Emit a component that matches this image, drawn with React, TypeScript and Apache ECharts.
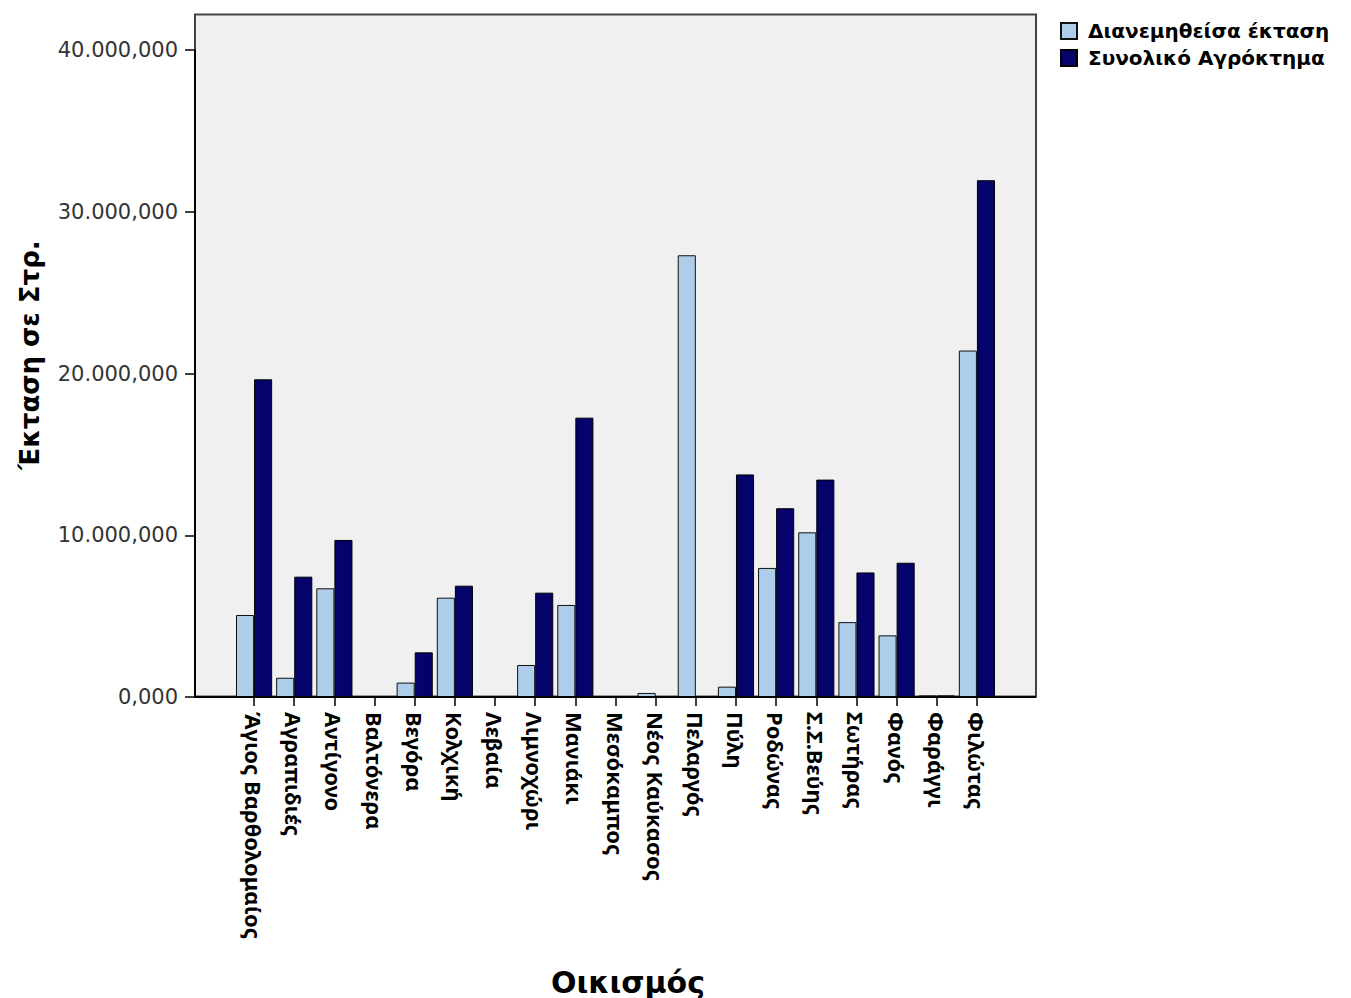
import React, { useEffect, useRef } from "react";
import * as echarts from "echarts";

const categories = [
  "Άγιος Βαρθολομαίος",
  "Αγραπιδιές",
  "Αντίγονο",
  "Βαλτόνερα",
  "Βεγόρα",
  "Κολχική",
  "Λεβαία",
  "Λιμνοχώρι",
  "Μανιάκι",
  "Μεσόκαμπος",
  "Νέος Καύκασος",
  "Πελαργός",
  "Πύλη",
  "Ροδώνας",
  "Σ.Σ.Βεύης",
  "Σωτήρας",
  "Φανός",
  "Φαράγγι",
  "Φιλώτας",
];

const distributed = [
  5070, 1190, 6720, 0, 890, 6140, 0, 1980, 5690, 0,
  250, 27310, 640, 7980, 10180, 4630, 3810, 100, 21420,
];

const totalFarm = [
  19640, 7440, 9710, 0, 2760, 6880, 0, 6450, 17270, 0,
  0, 0, 13760, 11670, 13440, 7700, 8300, 100, 31950,
];

const yTicks = [0, 10000, 20000, 30000, 40000];
const seriesNames = ["Διανεμηθείσα έκταση", "Συνολικό Αγρόκτημα"];
const xTitle = "Οικισμός";
const yTitle = "Έκταση σε Στρ.";

function fmt(v: number): string {
  const s = Math.round(v).toString();
  const grouped = s.replace(/\B(?=(\d{3})+(?!\d))/g, ".");
  return grouped + ",000";
}

export default function App() {
  const ref = useRef<HTMLDivElement>(null);
  useEffect(() => {
    if (!ref.current) return;
    const chart = echarts.init(ref.current, null, { renderer: "svg" });
    chart.setOption({
      animation: false,
      backgroundColor: "#ffffff",
      grid: { left: 234, right: 354, top: 50, bottom: 301, containLabel: false },
      legend: {
        data: seriesNames,
        orient: "vertical",
        left: 1060,
        top: 21,
        padding: 0,
        itemWidth: 16,
        itemHeight: 16,
        itemGap: 7,
        icon: "rect",
        textStyle: {
          fontFamily: "DejaVu Sans",
          fontWeight: "bold",
          fontSize: 20,
          color: "#000",
          padding: [0, 0, 0, 6],
        },
      },
      xAxis: {
        type: "category",
        data: categories,
        axisLine: { show: false },
        axisTick: {
          show: true,
          alignWithLabel: true,
          length: 9,
          lineStyle: { color: "#000", width: 1.5 },
        },
        axisLabel: {
          rotate: -90,
          interval: 0,
          margin: 15,
          fontFamily: "Noto Sans",
          fontWeight: "bold",
          fontSize: 22,
          color: "#000",
        },
        splitLine: { show: false },
      },
      yAxis: {
        type: "value",
        min: yTicks[0],
        max: yTicks[yTicks.length - 1],
        interval: yTicks[1] - yTicks[0],
        offset: 39,
        axisLine: { show: true, lineStyle: { color: "#000", width: 2 } },
        axisTick: { show: true, length: 10, lineStyle: { color: "#000", width: 1.5 } },
        axisLabel: {
          formatter: (v: number) => fmt(v),
          fontFamily: "DejaVu Sans",
          fontSize: 21,
          color: "#333",
          margin: 17,
        },
        splitLine: { show: false },
      },
      graphic: [
        {
          type: "rect",
          z: -10,
          shape: { x: 195, y: 14.5, width: 841, height: 682 },
          style: { fill: "#F0F0F0", stroke: "#444", lineWidth: 2 },
        },
        {
          type: "line",
          z: 100,
          shape: { x1: 195, y1: 697, x2: 1036, y2: 697 },
          style: { stroke: "#000", lineWidth: 2 },
        },
        {
          type: "text",
          x: 628,
          y: 982,
          style: {
            text: xTitle,
            fontFamily: "DejaVu Sans",
            fontWeight: "bold",
            fontSize: 30,
            fill: "#000",
            textAlign: "center",
            textVerticalAlign: "middle",
          },
        },
        {
          type: "text",
          x: 30,
          y: 355,
          rotation: Math.PI / 2,
          style: {
            text: yTitle,
            fontFamily: "DejaVu Sans",
            fontWeight: "bold",
            fontSize: 26,
            fill: "#000",
            textAlign: "center",
            textVerticalAlign: "middle",
          },
        },
      ],
      series: [
        {
          name: seriesNames[0],
          type: "bar",
          data: distributed,
          barGap: "0%",
          barCategoryGap: "10%",
          itemStyle: { color: "#AECDEA", borderColor: "#111", borderWidth: 1 },
        },
        {
          name: seriesNames[1],
          type: "bar",
          data: totalFarm,
          barGap: "0%",
          barCategoryGap: "10%",
          itemStyle: { color: "#03036B", borderColor: "#000", borderWidth: 1 },
        },
      ],
    });
    return () => chart.dispose();
  }, []);
  return (
    <div
      ref={ref}
      style={{ position: "absolute", left: 0, top: 0, width: 1351, height: 998 }}
    />
  );
}
